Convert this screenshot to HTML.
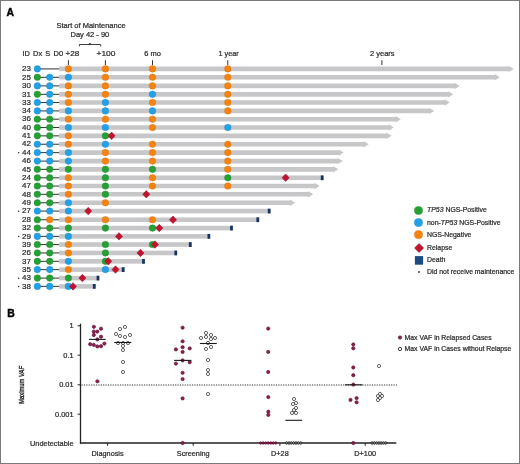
<!DOCTYPE html>
<html><head><meta charset="utf-8"><style>
html,body{margin:0;padding:0;background:#fff;}
body{width:520px;height:464px;overflow:hidden;position:relative;}
.frame{position:absolute;left:0;top:0;width:518px;height:462px;border:1px solid #7a7a7a;}
svg{position:absolute;left:0;top:0;font-family:"Liberation Sans",sans-serif;will-change:transform;filter:blur(0.3px);}
text{stroke:#2a2a2a;stroke-width:0.22px;}
</style></head><body>
<div class="frame"></div>
<svg width="520" height="464" viewBox="0 0 520 464">
<text x="6.6" y="15.8" font-size="10.4" font-weight="bold" fill="#000" style="stroke:#000;stroke-width:0.45px">A</text>
<text x="91" y="28.0" font-size="7.5" text-anchor="middle" fill="#2a2a2a">Start of Maintenance</text>
<text x="89.9" y="37.3" font-size="7.5" text-anchor="middle" fill="#2a2a2a">Day 42 - 90</text>
<path d="M79.4 46.4V44.5H100.7V46.4" fill="none" stroke="#333" stroke-width="0.95"/>
<ellipse cx="89.9" cy="43.9" rx="1.15" ry="1.0" fill="#333"/>
<text x="22.4" y="55.7" font-size="7.5" fill="#2a2a2a">ID</text>
<text x="33.0" y="55.7" font-size="7.5" fill="#2a2a2a">Dx</text>
<text x="45.2" y="55.7" font-size="7.5" fill="#2a2a2a">S</text>
<text x="53.6" y="55.7" font-size="7.5" fill="#2a2a2a">D0</text>
<text x="65.4" y="55.7" font-size="7.5" fill="#2a2a2a" textLength="13.85" lengthAdjust="spacingAndGlyphs">+28</text>
<text x="96.5" y="55.7" font-size="7.5" fill="#2a2a2a" textLength="19.0" lengthAdjust="spacingAndGlyphs">+100</text>
<text x="144.2" y="55.7" font-size="7.5" fill="#2a2a2a">6 mo</text>
<text x="218.5" y="55.7" font-size="7.5" fill="#2a2a2a" textLength="20.3" lengthAdjust="spacingAndGlyphs">1 year</text>
<text x="370.0" y="55.7" font-size="7.5" fill="#2a2a2a">2 years</text>
<line x1="68.4" y1="60.2" x2="68.4" y2="65" stroke="#333" stroke-width="1"/>
<line x1="105.4" y1="60.2" x2="105.4" y2="65" stroke="#333" stroke-width="1"/>
<line x1="152.5" y1="60.2" x2="152.5" y2="65" stroke="#333" stroke-width="1"/>
<line x1="227.8" y1="60.2" x2="227.8" y2="65" stroke="#333" stroke-width="1"/>
<line x1="381.9" y1="60.2" x2="381.9" y2="65" stroke="#333" stroke-width="1"/>
<text x="30.9" y="71.17" font-size="8.0" text-anchor="end" fill="#2a2a2a">23</text>
<line x1="37.35" y1="68.92" x2="59.7" y2="68.92" stroke="#3a3a3a" stroke-width="1.05"/>
<path d="M59.2 66.62H508.70V65.72L513.70 68.92L508.70 72.12V71.22H59.2Z" fill="#c7c7c9"/>
<circle cx="37.35" cy="68.92" r="3.30" fill="#22a2e6" stroke="#1683c8" stroke-width="0.4"/>
<circle cx="68.40" cy="68.92" r="3.30" fill="#f5840f" stroke="#d9700a" stroke-width="0.4"/>
<circle cx="105.40" cy="68.92" r="3.30" fill="#f5840f" stroke="#d9700a" stroke-width="0.4"/>
<circle cx="152.50" cy="68.92" r="3.30" fill="#f5840f" stroke="#d9700a" stroke-width="0.4"/>
<circle cx="227.80" cy="68.92" r="3.30" fill="#f5840f" stroke="#d9700a" stroke-width="0.4"/>
<text x="30.9" y="79.56" font-size="8.0" text-anchor="end" fill="#2a2a2a">25</text>
<line x1="37.35" y1="77.31" x2="59.7" y2="77.31" stroke="#3a3a3a" stroke-width="1.05"/>
<path d="M59.2 75.01H494.70V74.11L499.70 77.31L494.70 80.51V79.61H59.2Z" fill="#c7c7c9"/>
<circle cx="37.35" cy="77.31" r="3.30" fill="#25a035" stroke="#1b8a28" stroke-width="0.4"/>
<circle cx="49.70" cy="77.31" r="3.30" fill="#22a2e6" stroke="#1683c8" stroke-width="0.4"/>
<circle cx="68.40" cy="77.31" r="3.30" fill="#22a2e6" stroke="#1683c8" stroke-width="0.4"/>
<circle cx="105.40" cy="77.31" r="3.30" fill="#f5840f" stroke="#d9700a" stroke-width="0.4"/>
<circle cx="152.50" cy="77.31" r="3.30" fill="#f5840f" stroke="#d9700a" stroke-width="0.4"/>
<circle cx="227.80" cy="77.31" r="3.30" fill="#f5840f" stroke="#d9700a" stroke-width="0.4"/>
<text x="30.9" y="88.14" font-size="8.0" text-anchor="end" fill="#2a2a2a">30</text>
<line x1="37.35" y1="85.89" x2="59.7" y2="85.89" stroke="#3a3a3a" stroke-width="1.05"/>
<path d="M59.2 83.59H454.70V82.69L459.70 85.89L454.70 89.09V88.19H59.2Z" fill="#c7c7c9"/>
<circle cx="37.35" cy="85.89" r="3.30" fill="#22a2e6" stroke="#1683c8" stroke-width="0.4"/>
<circle cx="49.70" cy="85.89" r="3.30" fill="#22a2e6" stroke="#1683c8" stroke-width="0.4"/>
<circle cx="68.40" cy="85.89" r="3.30" fill="#f5840f" stroke="#d9700a" stroke-width="0.4"/>
<circle cx="105.40" cy="85.89" r="3.30" fill="#f5840f" stroke="#d9700a" stroke-width="0.4"/>
<circle cx="152.50" cy="85.89" r="3.30" fill="#f5840f" stroke="#d9700a" stroke-width="0.4"/>
<circle cx="227.80" cy="85.89" r="3.30" fill="#f5840f" stroke="#d9700a" stroke-width="0.4"/>
<text x="30.9" y="96.58" font-size="8.0" text-anchor="end" fill="#2a2a2a">31</text>
<line x1="37.35" y1="94.33" x2="59.7" y2="94.33" stroke="#3a3a3a" stroke-width="1.05"/>
<path d="M59.2 92.03H448.20V91.13L453.20 94.33L448.20 97.53V96.63H59.2Z" fill="#c7c7c9"/>
<circle cx="37.35" cy="94.33" r="3.30" fill="#25a035" stroke="#1b8a28" stroke-width="0.4"/>
<circle cx="49.70" cy="94.33" r="3.30" fill="#22a2e6" stroke="#1683c8" stroke-width="0.4"/>
<circle cx="68.40" cy="94.33" r="3.30" fill="#f5840f" stroke="#d9700a" stroke-width="0.4"/>
<circle cx="105.40" cy="94.33" r="3.30" fill="#f5840f" stroke="#d9700a" stroke-width="0.4"/>
<circle cx="152.50" cy="94.33" r="3.30" fill="#22a2e6" stroke="#1683c8" stroke-width="0.4"/>
<circle cx="227.80" cy="94.33" r="3.30" fill="#f5840f" stroke="#d9700a" stroke-width="0.4"/>
<text x="30.9" y="104.76" font-size="8.0" text-anchor="end" fill="#2a2a2a">33</text>
<line x1="37.35" y1="102.51" x2="59.7" y2="102.51" stroke="#3a3a3a" stroke-width="1.05"/>
<path d="M59.2 100.21H444.70V99.31L449.70 102.51L444.70 105.71V104.81H59.2Z" fill="#c7c7c9"/>
<circle cx="37.35" cy="102.51" r="3.30" fill="#22a2e6" stroke="#1683c8" stroke-width="0.4"/>
<circle cx="49.70" cy="102.51" r="3.30" fill="#22a2e6" stroke="#1683c8" stroke-width="0.4"/>
<circle cx="68.40" cy="102.51" r="3.30" fill="#f5840f" stroke="#d9700a" stroke-width="0.4"/>
<circle cx="105.40" cy="102.51" r="3.30" fill="#22a2e6" stroke="#1683c8" stroke-width="0.4"/>
<circle cx="152.50" cy="102.51" r="3.30" fill="#f5840f" stroke="#d9700a" stroke-width="0.4"/>
<circle cx="227.80" cy="102.51" r="3.30" fill="#f5840f" stroke="#d9700a" stroke-width="0.4"/>
<text x="30.9" y="113.15" font-size="8.0" text-anchor="end" fill="#2a2a2a">34</text>
<line x1="37.35" y1="110.90" x2="59.7" y2="110.90" stroke="#3a3a3a" stroke-width="1.05"/>
<path d="M59.2 108.60H429.20V107.70L434.20 110.90L429.20 114.10V113.20H59.2Z" fill="#c7c7c9"/>
<circle cx="37.35" cy="110.90" r="3.30" fill="#22a2e6" stroke="#1683c8" stroke-width="0.4"/>
<circle cx="49.70" cy="110.90" r="3.30" fill="#22a2e6" stroke="#1683c8" stroke-width="0.4"/>
<circle cx="68.40" cy="110.90" r="3.30" fill="#22a2e6" stroke="#1683c8" stroke-width="0.4"/>
<circle cx="105.40" cy="110.90" r="3.30" fill="#22a2e6" stroke="#1683c8" stroke-width="0.4"/>
<circle cx="152.50" cy="110.90" r="3.30" fill="#22a2e6" stroke="#1683c8" stroke-width="0.4"/>
<circle cx="227.80" cy="110.90" r="3.30" fill="#f5840f" stroke="#d9700a" stroke-width="0.4"/>
<text x="30.9" y="121.44" font-size="8.0" text-anchor="end" fill="#2a2a2a">36</text>
<line x1="37.35" y1="119.19" x2="59.7" y2="119.19" stroke="#3a3a3a" stroke-width="1.05"/>
<path d="M59.2 116.89H395.70V115.98L400.70 119.19L395.70 122.39V121.48H59.2Z" fill="#c7c7c9"/>
<circle cx="37.35" cy="119.19" r="3.30" fill="#25a035" stroke="#1b8a28" stroke-width="0.4"/>
<circle cx="49.70" cy="119.19" r="3.30" fill="#25a035" stroke="#1b8a28" stroke-width="0.4"/>
<circle cx="68.40" cy="119.19" r="3.30" fill="#f5840f" stroke="#d9700a" stroke-width="0.4"/>
<circle cx="105.40" cy="119.19" r="3.30" fill="#f5840f" stroke="#d9700a" stroke-width="0.4"/>
<circle cx="152.50" cy="119.19" r="3.30" fill="#f5840f" stroke="#d9700a" stroke-width="0.4"/>
<text x="30.9" y="129.77" font-size="8.0" text-anchor="end" fill="#2a2a2a">40</text>
<line x1="37.35" y1="127.52" x2="59.7" y2="127.52" stroke="#3a3a3a" stroke-width="1.05"/>
<path d="M59.2 125.22H388.70V124.32L393.70 127.52L388.70 130.72V129.82H59.2Z" fill="#c7c7c9"/>
<circle cx="37.35" cy="127.52" r="3.30" fill="#25a035" stroke="#1b8a28" stroke-width="0.4"/>
<circle cx="49.70" cy="127.52" r="3.30" fill="#25a035" stroke="#1b8a28" stroke-width="0.4"/>
<circle cx="68.40" cy="127.52" r="3.30" fill="#22a2e6" stroke="#1683c8" stroke-width="0.4"/>
<circle cx="105.40" cy="127.52" r="3.30" fill="#22a2e6" stroke="#1683c8" stroke-width="0.4"/>
<circle cx="152.50" cy="127.52" r="3.30" fill="#f5840f" stroke="#d9700a" stroke-width="0.4"/>
<circle cx="227.80" cy="127.52" r="3.30" fill="#22a2e6" stroke="#1683c8" stroke-width="0.4"/>
<text x="30.9" y="138.11" font-size="8.0" text-anchor="end" fill="#2a2a2a">41</text>
<line x1="37.35" y1="135.86" x2="59.7" y2="135.86" stroke="#3a3a3a" stroke-width="1.05"/>
<path d="M59.2 133.56H386.70V132.66L391.70 135.86L386.70 139.06V138.16H59.2Z" fill="#c7c7c9"/>
<circle cx="37.35" cy="135.86" r="3.30" fill="#25a035" stroke="#1b8a28" stroke-width="0.4"/>
<circle cx="49.70" cy="135.86" r="3.30" fill="#25a035" stroke="#1b8a28" stroke-width="0.4"/>
<circle cx="68.40" cy="135.86" r="3.30" fill="#f5840f" stroke="#d9700a" stroke-width="0.4"/>
<circle cx="105.40" cy="135.86" r="3.30" fill="#25a035" stroke="#1b8a28" stroke-width="0.4"/>
<path d="M108.05 135.86L111.60 132.11L115.15 135.86L111.60 139.61Z" fill="#c5122f" stroke="#8e0b25" stroke-width="0.5" stroke-linejoin="miter"/>
<text x="30.9" y="146.49" font-size="8.0" text-anchor="end" fill="#2a2a2a">42</text>
<line x1="37.35" y1="144.24" x2="59.7" y2="144.24" stroke="#3a3a3a" stroke-width="1.05"/>
<path d="M59.2 141.94H363.70V141.04L368.70 144.24L363.70 147.44V146.54H59.2Z" fill="#c7c7c9"/>
<circle cx="37.35" cy="144.24" r="3.30" fill="#22a2e6" stroke="#1683c8" stroke-width="0.4"/>
<circle cx="49.70" cy="144.24" r="3.30" fill="#22a2e6" stroke="#1683c8" stroke-width="0.4"/>
<circle cx="68.40" cy="144.24" r="3.30" fill="#f5840f" stroke="#d9700a" stroke-width="0.4"/>
<circle cx="105.40" cy="144.24" r="3.30" fill="#22a2e6" stroke="#1683c8" stroke-width="0.4"/>
<circle cx="152.50" cy="144.24" r="3.30" fill="#f5840f" stroke="#d9700a" stroke-width="0.4"/>
<circle cx="227.80" cy="144.24" r="3.30" fill="#f5840f" stroke="#d9700a" stroke-width="0.4"/>
<text x="30.9" y="154.88" font-size="8.0" text-anchor="end" fill="#2a2a2a">44</text>
<circle cx="18.6" cy="152.82" r="0.75" fill="#2a2a2a"/>
<line x1="37.35" y1="152.62" x2="59.7" y2="152.62" stroke="#3a3a3a" stroke-width="1.05"/>
<path d="M59.2 150.32H338.70V149.43L343.70 152.62L338.70 155.82V154.93H59.2Z" fill="#c7c7c9"/>
<circle cx="37.35" cy="152.62" r="3.30" fill="#22a2e6" stroke="#1683c8" stroke-width="0.4"/>
<circle cx="49.70" cy="152.62" r="3.30" fill="#22a2e6" stroke="#1683c8" stroke-width="0.4"/>
<circle cx="68.40" cy="152.62" r="3.30" fill="#22a2e6" stroke="#1683c8" stroke-width="0.4"/>
<circle cx="105.40" cy="152.62" r="3.30" fill="#f5840f" stroke="#d9700a" stroke-width="0.4"/>
<circle cx="152.50" cy="152.62" r="3.30" fill="#f5840f" stroke="#d9700a" stroke-width="0.4"/>
<circle cx="227.80" cy="152.62" r="3.30" fill="#f5840f" stroke="#d9700a" stroke-width="0.4"/>
<text x="30.9" y="163.36" font-size="8.0" text-anchor="end" fill="#2a2a2a">46</text>
<line x1="37.35" y1="161.11" x2="59.7" y2="161.11" stroke="#3a3a3a" stroke-width="1.05"/>
<path d="M59.2 158.81H337.70V157.91L342.70 161.11L337.70 164.31V163.41H59.2Z" fill="#c7c7c9"/>
<circle cx="37.35" cy="161.11" r="3.30" fill="#22a2e6" stroke="#1683c8" stroke-width="0.4"/>
<circle cx="49.70" cy="161.11" r="3.30" fill="#22a2e6" stroke="#1683c8" stroke-width="0.4"/>
<circle cx="68.40" cy="161.11" r="3.30" fill="#22a2e6" stroke="#1683c8" stroke-width="0.4"/>
<circle cx="105.40" cy="161.11" r="3.30" fill="#f5840f" stroke="#d9700a" stroke-width="0.4"/>
<circle cx="152.50" cy="161.11" r="3.30" fill="#f5840f" stroke="#d9700a" stroke-width="0.4"/>
<circle cx="227.80" cy="161.11" r="3.30" fill="#f5840f" stroke="#d9700a" stroke-width="0.4"/>
<text x="30.9" y="171.59" font-size="8.0" text-anchor="end" fill="#2a2a2a">45</text>
<line x1="37.35" y1="169.34" x2="59.7" y2="169.34" stroke="#3a3a3a" stroke-width="1.05"/>
<path d="M59.2 167.04H333.20V166.15L338.20 169.34L333.20 172.54V171.65H59.2Z" fill="#c7c7c9"/>
<circle cx="37.35" cy="169.34" r="3.30" fill="#25a035" stroke="#1b8a28" stroke-width="0.4"/>
<circle cx="49.70" cy="169.34" r="3.30" fill="#25a035" stroke="#1b8a28" stroke-width="0.4"/>
<circle cx="68.40" cy="169.34" r="3.30" fill="#25a035" stroke="#1b8a28" stroke-width="0.4"/>
<circle cx="105.40" cy="169.34" r="3.30" fill="#25a035" stroke="#1b8a28" stroke-width="0.4"/>
<circle cx="152.50" cy="169.34" r="3.30" fill="#25a035" stroke="#1b8a28" stroke-width="0.4"/>
<circle cx="227.80" cy="169.34" r="3.30" fill="#f5840f" stroke="#d9700a" stroke-width="0.4"/>
<text x="30.9" y="180.03" font-size="8.0" text-anchor="end" fill="#2a2a2a">24</text>
<line x1="37.35" y1="177.78" x2="59.7" y2="177.78" stroke="#3a3a3a" stroke-width="1.05"/>
<rect x="59.2" y="175.48" width="263.00" height="4.6" fill="#c7c7c9"/>
<rect x="320.80" y="175.38" width="2.8" height="4.8" fill="#14345e"/>
<circle cx="37.35" cy="177.78" r="3.30" fill="#25a035" stroke="#1b8a28" stroke-width="0.4"/>
<circle cx="49.70" cy="177.78" r="3.30" fill="#25a035" stroke="#1b8a28" stroke-width="0.4"/>
<circle cx="68.40" cy="177.78" r="3.30" fill="#f5840f" stroke="#d9700a" stroke-width="0.4"/>
<circle cx="105.40" cy="177.78" r="3.30" fill="#25a035" stroke="#1b8a28" stroke-width="0.4"/>
<circle cx="152.50" cy="177.78" r="3.30" fill="#f5840f" stroke="#d9700a" stroke-width="0.4"/>
<circle cx="227.80" cy="177.78" r="3.30" fill="#25a035" stroke="#1b8a28" stroke-width="0.4"/>
<path d="M282.05 177.78L285.60 174.03L289.15 177.78L285.60 181.53Z" fill="#c5122f" stroke="#8e0b25" stroke-width="0.5" stroke-linejoin="miter"/>
<text x="30.9" y="188.31" font-size="8.0" text-anchor="end" fill="#2a2a2a">47</text>
<line x1="37.35" y1="186.06" x2="59.7" y2="186.06" stroke="#3a3a3a" stroke-width="1.05"/>
<path d="M59.2 183.76H314.60V182.87L319.60 186.06L314.60 189.26V188.37H59.2Z" fill="#c7c7c9"/>
<circle cx="37.35" cy="186.06" r="3.30" fill="#25a035" stroke="#1b8a28" stroke-width="0.4"/>
<circle cx="49.70" cy="186.06" r="3.30" fill="#25a035" stroke="#1b8a28" stroke-width="0.4"/>
<circle cx="68.40" cy="186.06" r="3.30" fill="#f5840f" stroke="#d9700a" stroke-width="0.4"/>
<circle cx="105.40" cy="186.06" r="3.30" fill="#25a035" stroke="#1b8a28" stroke-width="0.4"/>
<circle cx="152.50" cy="186.06" r="3.30" fill="#f5840f" stroke="#d9700a" stroke-width="0.4"/>
<circle cx="227.80" cy="186.06" r="3.30" fill="#f5840f" stroke="#d9700a" stroke-width="0.4"/>
<text x="30.9" y="196.55" font-size="8.0" text-anchor="end" fill="#2a2a2a">48</text>
<line x1="37.35" y1="194.30" x2="59.7" y2="194.30" stroke="#3a3a3a" stroke-width="1.05"/>
<path d="M59.2 192.00H308.10V191.10L313.10 194.30L308.10 197.50V196.60H59.2Z" fill="#c7c7c9"/>
<circle cx="37.35" cy="194.30" r="3.30" fill="#25a035" stroke="#1b8a28" stroke-width="0.4"/>
<circle cx="49.70" cy="194.30" r="3.30" fill="#25a035" stroke="#1b8a28" stroke-width="0.4"/>
<circle cx="68.40" cy="194.30" r="3.30" fill="#f5840f" stroke="#d9700a" stroke-width="0.4"/>
<circle cx="105.40" cy="194.30" r="3.30" fill="#25a035" stroke="#1b8a28" stroke-width="0.4"/>
<path d="M142.75 194.30L146.30 190.55L149.85 194.30L146.30 198.05Z" fill="#c5122f" stroke="#8e0b25" stroke-width="0.5" stroke-linejoin="miter"/>
<text x="30.9" y="205.03" font-size="8.0" text-anchor="end" fill="#2a2a2a">49</text>
<line x1="37.35" y1="202.78" x2="59.7" y2="202.78" stroke="#3a3a3a" stroke-width="1.05"/>
<path d="M59.2 200.48H290.10V199.59L295.10 202.78L290.10 205.98V205.09H59.2Z" fill="#c7c7c9"/>
<circle cx="37.35" cy="202.78" r="3.30" fill="#25a035" stroke="#1b8a28" stroke-width="0.4"/>
<circle cx="49.70" cy="202.78" r="3.30" fill="#25a035" stroke="#1b8a28" stroke-width="0.4"/>
<circle cx="68.40" cy="202.78" r="3.30" fill="#22a2e6" stroke="#1683c8" stroke-width="0.4"/>
<circle cx="105.40" cy="202.78" r="3.30" fill="#f5840f" stroke="#d9700a" stroke-width="0.4"/>
<text x="30.9" y="213.32" font-size="8.0" text-anchor="end" fill="#2a2a2a">27</text>
<circle cx="18.6" cy="211.27" r="0.75" fill="#2a2a2a"/>
<line x1="37.35" y1="211.07" x2="59.7" y2="211.07" stroke="#3a3a3a" stroke-width="1.05"/>
<rect x="59.2" y="208.77" width="210.00" height="4.6" fill="#c7c7c9"/>
<rect x="267.80" y="208.67" width="2.8" height="4.8" fill="#14345e"/>
<circle cx="37.35" cy="211.07" r="3.30" fill="#22a2e6" stroke="#1683c8" stroke-width="0.4"/>
<circle cx="49.70" cy="211.07" r="3.30" fill="#22a2e6" stroke="#1683c8" stroke-width="0.4"/>
<circle cx="68.40" cy="211.07" r="3.30" fill="#22a2e6" stroke="#1683c8" stroke-width="0.4"/>
<path d="M84.65 211.07L88.20 207.32L91.75 211.07L88.20 214.82Z" fill="#c5122f" stroke="#8e0b25" stroke-width="0.5" stroke-linejoin="miter"/>
<text x="30.9" y="222.00" font-size="8.0" text-anchor="end" fill="#2a2a2a">28</text>
<line x1="37.35" y1="219.75" x2="59.7" y2="219.75" stroke="#3a3a3a" stroke-width="1.05"/>
<rect x="59.2" y="217.45" width="198.60" height="4.6" fill="#c7c7c9"/>
<rect x="256.40" y="217.35" width="2.8" height="4.8" fill="#14345e"/>
<circle cx="37.35" cy="219.75" r="3.30" fill="#25a035" stroke="#1b8a28" stroke-width="0.4"/>
<circle cx="49.70" cy="219.75" r="3.30" fill="#f5840f" stroke="#d9700a" stroke-width="0.4"/>
<circle cx="68.40" cy="219.75" r="3.30" fill="#f5840f" stroke="#d9700a" stroke-width="0.4"/>
<circle cx="105.40" cy="219.75" r="3.30" fill="#f5840f" stroke="#d9700a" stroke-width="0.4"/>
<circle cx="152.50" cy="219.75" r="3.30" fill="#f5840f" stroke="#d9700a" stroke-width="0.4"/>
<path d="M169.45 219.75L173.00 216.00L176.55 219.75L173.00 223.50Z" fill="#c5122f" stroke="#8e0b25" stroke-width="0.5" stroke-linejoin="miter"/>
<text x="30.9" y="230.34" font-size="8.0" text-anchor="end" fill="#2a2a2a">32</text>
<line x1="37.35" y1="228.09" x2="59.7" y2="228.09" stroke="#3a3a3a" stroke-width="1.05"/>
<rect x="59.2" y="225.79" width="172.30" height="4.6" fill="#c7c7c9"/>
<rect x="230.10" y="225.69" width="2.8" height="4.8" fill="#14345e"/>
<circle cx="37.35" cy="228.09" r="3.30" fill="#25a035" stroke="#1b8a28" stroke-width="0.4"/>
<circle cx="49.70" cy="228.09" r="3.30" fill="#25a035" stroke="#1b8a28" stroke-width="0.4"/>
<circle cx="68.40" cy="228.09" r="3.30" fill="#25a035" stroke="#1b8a28" stroke-width="0.4"/>
<circle cx="105.40" cy="228.09" r="3.30" fill="#25a035" stroke="#1b8a28" stroke-width="0.4"/>
<circle cx="152.50" cy="228.09" r="3.30" fill="#25a035" stroke="#1b8a28" stroke-width="0.4"/>
<path d="M155.75 228.09L159.30 224.34L162.85 228.09L159.30 231.84Z" fill="#c5122f" stroke="#8e0b25" stroke-width="0.5" stroke-linejoin="miter"/>
<text x="30.9" y="238.62" font-size="8.0" text-anchor="end" fill="#2a2a2a">29</text>
<circle cx="18.6" cy="236.57" r="0.75" fill="#2a2a2a"/>
<line x1="37.35" y1="236.38" x2="59.7" y2="236.38" stroke="#3a3a3a" stroke-width="1.05"/>
<rect x="59.2" y="234.07" width="149.70" height="4.6" fill="#c7c7c9"/>
<rect x="207.50" y="233.97" width="2.8" height="4.8" fill="#14345e"/>
<circle cx="37.35" cy="236.38" r="3.30" fill="#22a2e6" stroke="#1683c8" stroke-width="0.4"/>
<circle cx="49.70" cy="236.38" r="3.30" fill="#22a2e6" stroke="#1683c8" stroke-width="0.4"/>
<circle cx="68.40" cy="236.38" r="3.30" fill="#22a2e6" stroke="#1683c8" stroke-width="0.4"/>
<path d="M115.45 236.38L119.00 232.62L122.55 236.38L119.00 240.12Z" fill="#c5122f" stroke="#8e0b25" stroke-width="0.5" stroke-linejoin="miter"/>
<text x="30.9" y="246.81" font-size="8.0" text-anchor="end" fill="#2a2a2a">39</text>
<line x1="37.35" y1="244.56" x2="59.7" y2="244.56" stroke="#3a3a3a" stroke-width="1.05"/>
<rect x="59.2" y="242.26" width="131.10" height="4.6" fill="#c7c7c9"/>
<rect x="188.90" y="242.16" width="2.8" height="4.8" fill="#14345e"/>
<circle cx="37.35" cy="244.56" r="3.30" fill="#25a035" stroke="#1b8a28" stroke-width="0.4"/>
<circle cx="49.70" cy="244.56" r="3.30" fill="#25a035" stroke="#1b8a28" stroke-width="0.4"/>
<circle cx="68.40" cy="244.56" r="3.30" fill="#f5840f" stroke="#d9700a" stroke-width="0.4"/>
<circle cx="105.40" cy="244.56" r="3.30" fill="#25a035" stroke="#1b8a28" stroke-width="0.4"/>
<circle cx="152.50" cy="244.56" r="3.30" fill="#25a035" stroke="#1b8a28" stroke-width="0.4"/>
<path d="M151.45 244.56L155.00 240.81L158.55 244.56L155.00 248.31Z" fill="#c5122f" stroke="#8e0b25" stroke-width="0.5" stroke-linejoin="miter"/>
<text x="30.9" y="255.19" font-size="8.0" text-anchor="end" fill="#2a2a2a">26</text>
<line x1="37.35" y1="252.94" x2="59.7" y2="252.94" stroke="#3a3a3a" stroke-width="1.05"/>
<rect x="59.2" y="250.64" width="116.60" height="4.6" fill="#c7c7c9"/>
<rect x="174.40" y="250.54" width="2.8" height="4.8" fill="#14345e"/>
<circle cx="37.35" cy="252.94" r="3.30" fill="#25a035" stroke="#1b8a28" stroke-width="0.4"/>
<circle cx="49.70" cy="252.94" r="3.30" fill="#25a035" stroke="#1b8a28" stroke-width="0.4"/>
<circle cx="68.40" cy="252.94" r="3.30" fill="#f5840f" stroke="#d9700a" stroke-width="0.4"/>
<circle cx="105.40" cy="252.94" r="3.30" fill="#25a035" stroke="#1b8a28" stroke-width="0.4"/>
<path d="M136.95 252.94L140.50 249.19L144.05 252.94L140.50 256.69Z" fill="#c5122f" stroke="#8e0b25" stroke-width="0.5" stroke-linejoin="miter"/>
<text x="30.9" y="263.58" font-size="8.0" text-anchor="end" fill="#2a2a2a">37</text>
<line x1="37.35" y1="261.33" x2="59.7" y2="261.33" stroke="#3a3a3a" stroke-width="1.05"/>
<rect x="59.2" y="259.03" width="84.30" height="4.6" fill="#c7c7c9"/>
<rect x="142.10" y="258.93" width="2.8" height="4.8" fill="#14345e"/>
<circle cx="37.35" cy="261.33" r="3.30" fill="#25a035" stroke="#1b8a28" stroke-width="0.4"/>
<circle cx="49.70" cy="261.33" r="3.30" fill="#25a035" stroke="#1b8a28" stroke-width="0.4"/>
<circle cx="68.40" cy="261.33" r="3.30" fill="#22a2e6" stroke="#1683c8" stroke-width="0.4"/>
<circle cx="105.40" cy="261.33" r="3.30" fill="#25a035" stroke="#1b8a28" stroke-width="0.4"/>
<path d="M104.75 261.33L108.30 257.58L111.85 261.33L108.30 265.08Z" fill="#c5122f" stroke="#8e0b25" stroke-width="0.5" stroke-linejoin="miter"/>
<text x="30.9" y="271.87" font-size="8.0" text-anchor="end" fill="#2a2a2a">35</text>
<line x1="37.35" y1="269.62" x2="59.7" y2="269.62" stroke="#3a3a3a" stroke-width="1.05"/>
<rect x="59.2" y="267.31" width="64.00" height="4.6" fill="#c7c7c9"/>
<rect x="121.80" y="267.22" width="2.8" height="4.8" fill="#14345e"/>
<circle cx="37.35" cy="269.62" r="3.30" fill="#22a2e6" stroke="#1683c8" stroke-width="0.4"/>
<circle cx="49.70" cy="269.62" r="3.30" fill="#22a2e6" stroke="#1683c8" stroke-width="0.4"/>
<circle cx="68.40" cy="269.62" r="3.30" fill="#f5840f" stroke="#d9700a" stroke-width="0.4"/>
<circle cx="105.40" cy="269.62" r="3.30" fill="#22a2e6" stroke="#1683c8" stroke-width="0.4"/>
<path d="M111.95 269.62L115.50 265.87L119.05 269.62L115.50 273.37Z" fill="#c5122f" stroke="#8e0b25" stroke-width="0.5" stroke-linejoin="miter"/>
<text x="30.9" y="280.35" font-size="8.0" text-anchor="end" fill="#2a2a2a">43</text>
<circle cx="18.6" cy="278.30" r="0.75" fill="#2a2a2a"/>
<line x1="37.35" y1="278.10" x2="59.7" y2="278.10" stroke="#3a3a3a" stroke-width="1.05"/>
<rect x="59.2" y="275.80" width="38.80" height="4.6" fill="#c7c7c9"/>
<rect x="96.60" y="275.70" width="2.8" height="4.8" fill="#14345e"/>
<circle cx="37.35" cy="278.10" r="3.30" fill="#25a035" stroke="#1b8a28" stroke-width="0.4"/>
<circle cx="49.70" cy="278.10" r="3.30" fill="#25a035" stroke="#1b8a28" stroke-width="0.4"/>
<circle cx="68.40" cy="278.10" r="3.30" fill="#25a035" stroke="#1b8a28" stroke-width="0.4"/>
<path d="M78.85 278.10L82.40 274.35L85.95 278.10L82.40 281.85Z" fill="#c5122f" stroke="#8e0b25" stroke-width="0.5" stroke-linejoin="miter"/>
<text x="30.9" y="288.63" font-size="8.0" text-anchor="end" fill="#2a2a2a">38</text>
<circle cx="18.6" cy="286.58" r="0.75" fill="#2a2a2a"/>
<line x1="37.35" y1="286.38" x2="59.7" y2="286.38" stroke="#3a3a3a" stroke-width="1.05"/>
<rect x="59.2" y="284.08" width="35.10" height="4.6" fill="#c7c7c9"/>
<rect x="92.90" y="283.99" width="2.8" height="4.8" fill="#14345e"/>
<circle cx="37.35" cy="286.38" r="3.30" fill="#22a2e6" stroke="#1683c8" stroke-width="0.4"/>
<circle cx="49.70" cy="286.38" r="3.30" fill="#22a2e6" stroke="#1683c8" stroke-width="0.4"/>
<circle cx="68.40" cy="286.38" r="3.30" fill="#22a2e6" stroke="#1683c8" stroke-width="0.4"/>
<path d="M69.45 286.38L73.00 282.63L76.55 286.38L73.00 290.13Z" fill="#c5122f" stroke="#8e0b25" stroke-width="0.5" stroke-linejoin="miter"/>
<circle cx="418.50" cy="210.50" r="4.10" fill="#25a035" stroke="#1b8a28" stroke-width="0.4"/>
<circle cx="418.50" cy="222.60" r="4.10" fill="#22a2e6" stroke="#1683c8" stroke-width="0.4"/>
<circle cx="418.50" cy="234.70" r="4.10" fill="#f5840f" stroke="#d9700a" stroke-width="0.4"/>
<path d="M414.55 248.00L419.10 243.45L423.65 248.00L419.10 252.55Z" fill="#c5122f" stroke="#8e0b25" stroke-width="0.5" stroke-linejoin="miter"/>
<rect x="414.9" y="256.09999999999997" width="8.2" height="8.6" fill="#1b4a82"/>
<circle cx="419" cy="272.0" r="0.9" fill="#2a2a2a"/>
<text x="427" y="212.4" font-size="6.9" fill="#2a2a2a"><tspan font-style="italic">TP53</tspan> NGS-Positive</text>
<text x="427" y="224.5" font-size="6.9" fill="#2a2a2a">non-<tspan font-style="italic">TP53</tspan> NGS-Positive</text>
<text x="427" y="236.6" font-size="6.9" fill="#2a2a2a">NGS-Negative</text>
<text x="427" y="249.9" font-size="6.9" fill="#2a2a2a">Relapse</text>
<text x="427" y="262.29999999999995" font-size="6.9" fill="#2a2a2a">Death</text>
<text x="427" y="273.9" font-size="6.9" fill="#2a2a2a">Did not receive maintenance</text>
<text x="7.2" y="316.9" font-size="10.4" font-weight="bold" fill="#000" style="stroke:#000;stroke-width:0.45px">B</text>
<line x1="80.5" y1="323.7" x2="80.5" y2="443.6" stroke="#222" stroke-width="1.3"/>
<line x1="79.9" y1="443" x2="396.3" y2="443" stroke="#222" stroke-width="1.3"/>
<line x1="77.6" y1="325.8" x2="80.5" y2="325.8" stroke="#222" stroke-width="1"/>
<text x="73.6" y="328.40000000000003" font-size="7.4" text-anchor="end" fill="#2a2a2a">1</text>
<line x1="77.6" y1="355.2" x2="80.5" y2="355.2" stroke="#222" stroke-width="1"/>
<text x="73.6" y="357.8" font-size="7.4" text-anchor="end" fill="#2a2a2a">0.1</text>
<line x1="77.6" y1="384.8" x2="80.5" y2="384.8" stroke="#222" stroke-width="1"/>
<text x="73.6" y="387.40000000000003" font-size="7.4" text-anchor="end" fill="#2a2a2a">0.01</text>
<line x1="77.6" y1="414.2" x2="80.5" y2="414.2" stroke="#222" stroke-width="1"/>
<text x="73.6" y="416.8" font-size="7.4" text-anchor="end" fill="#2a2a2a">0.001</text>
<text x="73.6" y="445.6" font-size="7.4" text-anchor="end" fill="#2a2a2a">Undetectable</text>
<line x1="81.5" y1="385.0" x2="397" y2="385.0" stroke="#333" stroke-width="1.2" stroke-dasharray="1.2 1.2"/>
<text transform="translate(23.6 384.9) rotate(-90)" font-size="7.6" text-anchor="middle" fill="#2a2a2a" textLength="37.8" lengthAdjust="spacingAndGlyphs" style="stroke-width:0.4px">Maximum <tspan font-style="italic">VAF</tspan></text>
<line x1="107.6" y1="443" x2="107.6" y2="445.8" stroke="#222" stroke-width="1"/>
<text x="107.6" y="455.7" font-size="7.3" text-anchor="middle" fill="#2a2a2a">Diagnosis</text>
<line x1="193.2" y1="443" x2="193.2" y2="445.8" stroke="#222" stroke-width="1"/>
<text x="193.2" y="455.7" font-size="7.3" text-anchor="middle" fill="#2a2a2a">Screening</text>
<line x1="279.9" y1="443" x2="279.9" y2="445.8" stroke="#222" stroke-width="1"/>
<text x="279.9" y="455.7" font-size="7.3" text-anchor="middle" fill="#2a2a2a">D+28</text>
<line x1="365.2" y1="443" x2="365.2" y2="445.8" stroke="#222" stroke-width="1"/>
<text x="365.2" y="455.7" font-size="7.3" text-anchor="middle" fill="#2a2a2a">D+100</text>
<circle cx="93.9" cy="326.8" r="1.65" fill="#961c52" stroke="#4e0c2a" stroke-width="0.6"/>
<circle cx="101" cy="328.7" r="1.65" fill="#961c52" stroke="#4e0c2a" stroke-width="0.6"/>
<circle cx="93.8" cy="331.6" r="1.65" fill="#961c52" stroke="#4e0c2a" stroke-width="0.6"/>
<circle cx="97.3" cy="331.6" r="1.65" fill="#961c52" stroke="#4e0c2a" stroke-width="0.6"/>
<circle cx="93.8" cy="335" r="1.65" fill="#961c52" stroke="#4e0c2a" stroke-width="0.6"/>
<circle cx="101" cy="336.7" r="1.65" fill="#961c52" stroke="#4e0c2a" stroke-width="0.6"/>
<circle cx="97.3" cy="339.4" r="1.65" fill="#961c52" stroke="#4e0c2a" stroke-width="0.6"/>
<circle cx="90.2" cy="344.2" r="1.65" fill="#961c52" stroke="#4e0c2a" stroke-width="0.6"/>
<circle cx="93.8" cy="344.9" r="1.65" fill="#961c52" stroke="#4e0c2a" stroke-width="0.6"/>
<circle cx="97.3" cy="346.4" r="1.65" fill="#961c52" stroke="#4e0c2a" stroke-width="0.6"/>
<circle cx="101" cy="346.2" r="1.65" fill="#961c52" stroke="#4e0c2a" stroke-width="0.6"/>
<circle cx="104.4" cy="343.6" r="1.65" fill="#961c52" stroke="#4e0c2a" stroke-width="0.6"/>
<circle cx="97.4" cy="381.3" r="1.65" fill="#961c52" stroke="#4e0c2a" stroke-width="0.6"/>
<line x1="88.9" y1="339.4" x2="105.7" y2="339.4" stroke="#1a1a1a" stroke-width="1.1"/>
<circle cx="120" cy="329" r="1.6" fill="#fff" stroke="#3c3c3c" stroke-width="0.8"/>
<circle cx="125" cy="327" r="1.6" fill="#fff" stroke="#3c3c3c" stroke-width="0.8"/>
<circle cx="116" cy="334" r="1.6" fill="#fff" stroke="#3c3c3c" stroke-width="0.8"/>
<circle cx="120" cy="336" r="1.6" fill="#fff" stroke="#3c3c3c" stroke-width="0.8"/>
<circle cx="125" cy="337" r="1.6" fill="#fff" stroke="#3c3c3c" stroke-width="0.8"/>
<circle cx="130" cy="335" r="1.6" fill="#fff" stroke="#3c3c3c" stroke-width="0.8"/>
<circle cx="118" cy="343" r="1.6" fill="#fff" stroke="#3c3c3c" stroke-width="0.8"/>
<circle cx="123" cy="343" r="1.6" fill="#fff" stroke="#3c3c3c" stroke-width="0.8"/>
<circle cx="128" cy="343" r="1.6" fill="#fff" stroke="#3c3c3c" stroke-width="0.8"/>
<circle cx="123" cy="346" r="1.6" fill="#fff" stroke="#3c3c3c" stroke-width="0.8"/>
<circle cx="123" cy="350" r="1.6" fill="#fff" stroke="#3c3c3c" stroke-width="0.8"/>
<circle cx="123" cy="362" r="1.6" fill="#fff" stroke="#3c3c3c" stroke-width="0.8"/>
<circle cx="123" cy="372" r="1.6" fill="#fff" stroke="#3c3c3c" stroke-width="0.8"/>
<line x1="114.2" y1="342.5" x2="131.3" y2="342.5" stroke="#1a1a1a" stroke-width="1.1"/>
<circle cx="182.6" cy="327.7" r="1.65" fill="#961c52" stroke="#4e0c2a" stroke-width="0.6"/>
<circle cx="182.6" cy="341.3" r="1.65" fill="#961c52" stroke="#4e0c2a" stroke-width="0.6"/>
<circle cx="182.6" cy="347.2" r="1.65" fill="#961c52" stroke="#4e0c2a" stroke-width="0.6"/>
<circle cx="175.9" cy="349.4" r="1.65" fill="#961c52" stroke="#4e0c2a" stroke-width="0.6"/>
<circle cx="189.7" cy="348.4" r="1.65" fill="#961c52" stroke="#4e0c2a" stroke-width="0.6"/>
<circle cx="182.6" cy="351.9" r="1.65" fill="#961c52" stroke="#4e0c2a" stroke-width="0.6"/>
<circle cx="182.6" cy="360.4" r="1.65" fill="#961c52" stroke="#4e0c2a" stroke-width="0.6"/>
<circle cx="175.9" cy="363.6" r="1.65" fill="#961c52" stroke="#4e0c2a" stroke-width="0.6"/>
<circle cx="189.7" cy="362.2" r="1.65" fill="#961c52" stroke="#4e0c2a" stroke-width="0.6"/>
<circle cx="182.6" cy="372.8" r="1.65" fill="#961c52" stroke="#4e0c2a" stroke-width="0.6"/>
<circle cx="182.6" cy="379.1" r="1.65" fill="#961c52" stroke="#4e0c2a" stroke-width="0.6"/>
<circle cx="182.6" cy="398.4" r="1.65" fill="#961c52" stroke="#4e0c2a" stroke-width="0.6"/>
<circle cx="182.6" cy="443" r="1.65" fill="#961c52" stroke="#4e0c2a" stroke-width="0.6"/>
<line x1="174.1" y1="360.4" x2="191.4" y2="360.4" stroke="#1a1a1a" stroke-width="1.1"/>
<circle cx="206" cy="333" r="1.6" fill="#fff" stroke="#3c3c3c" stroke-width="0.8"/>
<circle cx="201" cy="338" r="1.6" fill="#fff" stroke="#3c3c3c" stroke-width="0.8"/>
<circle cx="206" cy="337" r="1.6" fill="#fff" stroke="#3c3c3c" stroke-width="0.8"/>
<circle cx="211" cy="335" r="1.6" fill="#fff" stroke="#3c3c3c" stroke-width="0.8"/>
<circle cx="211" cy="339" r="1.6" fill="#fff" stroke="#3c3c3c" stroke-width="0.8"/>
<circle cx="215" cy="338" r="1.6" fill="#fff" stroke="#3c3c3c" stroke-width="0.8"/>
<circle cx="208" cy="343" r="1.6" fill="#fff" stroke="#3c3c3c" stroke-width="0.8"/>
<circle cx="206" cy="349" r="1.6" fill="#fff" stroke="#3c3c3c" stroke-width="0.8"/>
<circle cx="211" cy="347" r="1.6" fill="#fff" stroke="#3c3c3c" stroke-width="0.8"/>
<circle cx="208" cy="360" r="1.6" fill="#fff" stroke="#3c3c3c" stroke-width="0.8"/>
<circle cx="208" cy="370" r="1.6" fill="#fff" stroke="#3c3c3c" stroke-width="0.8"/>
<circle cx="208" cy="374" r="1.6" fill="#fff" stroke="#3c3c3c" stroke-width="0.8"/>
<circle cx="208" cy="394" r="1.6" fill="#fff" stroke="#3c3c3c" stroke-width="0.8"/>
<line x1="199.9" y1="343.5" x2="216.8" y2="343.5" stroke="#1a1a1a" stroke-width="1.1"/>
<circle cx="268.2" cy="328.6" r="1.65" fill="#961c52" stroke="#4e0c2a" stroke-width="0.6"/>
<circle cx="268.2" cy="351.9" r="1.65" fill="#961c52" stroke="#4e0c2a" stroke-width="0.6"/>
<circle cx="268.2" cy="372" r="1.65" fill="#961c52" stroke="#4e0c2a" stroke-width="0.6"/>
<circle cx="268.3" cy="397.1" r="1.65" fill="#961c52" stroke="#4e0c2a" stroke-width="0.6"/>
<circle cx="268.3" cy="411.7" r="1.65" fill="#961c52" stroke="#4e0c2a" stroke-width="0.6"/>
<circle cx="268.3" cy="414.9" r="1.65" fill="#961c52" stroke="#4e0c2a" stroke-width="0.6"/>
<circle cx="260.6" cy="443" r="1.25" fill="#961c52" stroke="#4e0c2a" stroke-width="0.6"/>
<circle cx="263.13" cy="443" r="1.25" fill="#961c52" stroke="#4e0c2a" stroke-width="0.6"/>
<circle cx="265.66" cy="443" r="1.25" fill="#961c52" stroke="#4e0c2a" stroke-width="0.6"/>
<circle cx="268.19" cy="443" r="1.25" fill="#961c52" stroke="#4e0c2a" stroke-width="0.6"/>
<circle cx="270.72" cy="443" r="1.25" fill="#961c52" stroke="#4e0c2a" stroke-width="0.6"/>
<circle cx="273.25" cy="443" r="1.25" fill="#961c52" stroke="#4e0c2a" stroke-width="0.6"/>
<circle cx="275.78000000000003" cy="443" r="1.25" fill="#961c52" stroke="#4e0c2a" stroke-width="0.6"/>
<circle cx="294" cy="399" r="1.6" fill="#fff" stroke="#3c3c3c" stroke-width="0.8"/>
<circle cx="293" cy="404" r="1.6" fill="#fff" stroke="#3c3c3c" stroke-width="0.8"/>
<circle cx="296" cy="403" r="1.6" fill="#fff" stroke="#3c3c3c" stroke-width="0.8"/>
<circle cx="294" cy="410" r="1.6" fill="#fff" stroke="#3c3c3c" stroke-width="0.8"/>
<circle cx="296" cy="408" r="1.6" fill="#fff" stroke="#3c3c3c" stroke-width="0.8"/>
<circle cx="292" cy="413" r="1.6" fill="#fff" stroke="#3c3c3c" stroke-width="0.8"/>
<circle cx="296" cy="413" r="1.6" fill="#fff" stroke="#3c3c3c" stroke-width="0.8"/>
<circle cx="286.6" cy="443" r="1.2" fill="#999" stroke="#2a2a2a" stroke-width="1.0"/>
<circle cx="288.95000000000005" cy="443" r="1.2" fill="#999" stroke="#2a2a2a" stroke-width="1.0"/>
<circle cx="291.3" cy="443" r="1.2" fill="#999" stroke="#2a2a2a" stroke-width="1.0"/>
<circle cx="293.65000000000003" cy="443" r="1.2" fill="#999" stroke="#2a2a2a" stroke-width="1.0"/>
<circle cx="296.0" cy="443" r="1.2" fill="#999" stroke="#2a2a2a" stroke-width="1.0"/>
<circle cx="298.35" cy="443" r="1.2" fill="#999" stroke="#2a2a2a" stroke-width="1.0"/>
<circle cx="300.70000000000005" cy="443" r="1.2" fill="#999" stroke="#2a2a2a" stroke-width="1.0"/>
<line x1="285.4" y1="420.3" x2="302.2" y2="420.3" stroke="#1a1a1a" stroke-width="1.1"/>
<circle cx="353.3" cy="344.5" r="1.65" fill="#961c52" stroke="#4e0c2a" stroke-width="0.6"/>
<circle cx="353.3" cy="348.3" r="1.65" fill="#961c52" stroke="#4e0c2a" stroke-width="0.6"/>
<circle cx="353.3" cy="367.5" r="1.65" fill="#961c52" stroke="#4e0c2a" stroke-width="0.6"/>
<circle cx="353.3" cy="375.2" r="1.65" fill="#961c52" stroke="#4e0c2a" stroke-width="0.6"/>
<circle cx="353.3" cy="384.6" r="1.65" fill="#961c52" stroke="#4e0c2a" stroke-width="0.6"/>
<circle cx="350.5" cy="399.9" r="1.65" fill="#961c52" stroke="#4e0c2a" stroke-width="0.6"/>
<circle cx="356.6" cy="398.1" r="1.65" fill="#961c52" stroke="#4e0c2a" stroke-width="0.6"/>
<circle cx="356.6" cy="402.3" r="1.65" fill="#961c52" stroke="#4e0c2a" stroke-width="0.6"/>
<circle cx="353.3" cy="443" r="1.65" fill="#961c52" stroke="#4e0c2a" stroke-width="0.6"/>
<line x1="345" y1="384.8" x2="362.4" y2="384.8" stroke="#1a1a1a" stroke-width="1.1"/>
<circle cx="379" cy="366" r="1.6" fill="#fff" stroke="#3c3c3c" stroke-width="0.8"/>
<circle cx="380" cy="394" r="1.6" fill="#fff" stroke="#3c3c3c" stroke-width="0.8"/>
<circle cx="378" cy="396" r="1.6" fill="#fff" stroke="#3c3c3c" stroke-width="0.8"/>
<circle cx="382" cy="396" r="1.6" fill="#fff" stroke="#3c3c3c" stroke-width="0.8"/>
<circle cx="380" cy="398" r="1.6" fill="#fff" stroke="#3c3c3c" stroke-width="0.8"/>
<circle cx="378" cy="400" r="1.6" fill="#fff" stroke="#3c3c3c" stroke-width="0.8"/>
<circle cx="372.1" cy="443" r="1.2" fill="#999" stroke="#2a2a2a" stroke-width="1.0"/>
<circle cx="374.37" cy="443" r="1.2" fill="#999" stroke="#2a2a2a" stroke-width="1.0"/>
<circle cx="376.64000000000004" cy="443" r="1.2" fill="#999" stroke="#2a2a2a" stroke-width="1.0"/>
<circle cx="378.91" cy="443" r="1.2" fill="#999" stroke="#2a2a2a" stroke-width="1.0"/>
<circle cx="381.18" cy="443" r="1.2" fill="#999" stroke="#2a2a2a" stroke-width="1.0"/>
<circle cx="383.45000000000005" cy="443" r="1.2" fill="#999" stroke="#2a2a2a" stroke-width="1.0"/>
<circle cx="385.72" cy="443" r="1.2" fill="#999" stroke="#2a2a2a" stroke-width="1.0"/>
<circle cx="400" cy="337.5" r="1.65" fill="#961c52" stroke="#4e0c2a" stroke-width="0.6"/>
<circle cx="400" cy="349" r="1.7" fill="#fff" stroke="#3c3c3c" stroke-width="0.95"/>
<text x="404.6" y="340.1" font-size="6.85" fill="#2a2a2a">Max VAF in Relapsed Cases</text>
<text x="404.6" y="351.4" font-size="6.85" fill="#2a2a2a">Max VAF in Cases without Relapse</text>
</svg>
</body></html>
